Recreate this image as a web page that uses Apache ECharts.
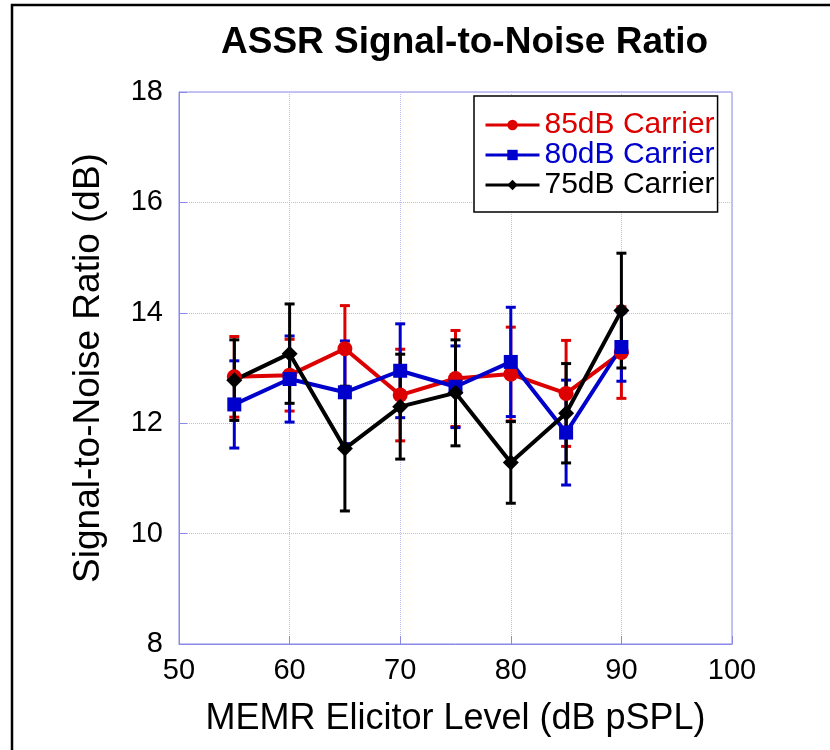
<!DOCTYPE html>
<html>
<head>
<meta charset="utf-8">
<script src="https://cdn.jsdelivr.net/npm/echarts@6/dist/echarts.min.js"></script>
<style>
html,body{margin:0;padding:0;background:#fff;}
#chart{width:830px;height:750px;}
</style>
</head>
<body>
<div id="chart"></div>
<script>
// ---- data ----
var xLevels = [55, 60, 65, 70, 75, 80, 85, 90];
var seriesNames = ['85dB Carrier', '80dB Carrier', '75dB Carrier'];
var snr85 = [12.84, 12.87, 13.35, 12.51, 12.81, 12.89, 12.54, 13.28];
var err85 = [0.73, 0.65, 0.78, 0.83, 0.87, 0.85, 0.96, 0.83];
var snr80 = [12.34, 12.80, 12.56, 12.95, 12.66, 13.11, 11.83, 13.38];
var err80 = [0.79, 0.78, 0.93, 0.85, 0.74, 0.99, 0.95, 0.62];
var snr75 = [12.78, 13.26, 11.54, 12.30, 12.55, 11.29, 12.18, 14.04];
var err75 = [0.73, 0.90, 1.13, 0.95, 0.96, 0.74, 0.90, 1.04];
var yTicks = [8, 10, 12, 14, 16, 18];
var xTicks = [50, 60, 70, 80, 90, 100];

var colors = ['#dd0000', '#0000cc', '#000000'];
var symbols = ['circle', 'rect', 'diamond'];
var symbolSizes = [15, 14, 16];
var means = [snr85, snr80, snr75];
var errs = [err85, err80, err75];
var FONT = "'Liberation Sans', Arial, sans-serif";
var AXIS_COLOR = '#8a8ae6';

function pairs(ys) { return xLevels.map(function (x, i) { return [x, ys[i]]; }); }
function triples(ys, es) { return xLevels.map(function (x, i) { return [x, ys[i], es[i]]; }); }

function errRender(color) {
  return function (params, api) {
    var x = api.value(0), y = api.value(1), e = api.value(2);
    var top = api.coord([x, y + e]);
    var bot = api.coord([x, y - e]);
    var hw = 5;
    var st = { stroke: color, lineWidth: 3 };
    return {
      type: 'group',
      children: [
        { type: 'line', shape: { x1: top[0], y1: top[1], x2: bot[0], y2: bot[1] }, style: st },
        { type: 'line', shape: { x1: top[0] - hw, y1: top[1], x2: top[0] + hw, y2: top[1] }, style: st },
        { type: 'line', shape: { x1: bot[0] - hw, y1: bot[1], x2: bot[0] + hw, y2: bot[1] }, style: st }
      ]
    };
  };
}

var series = [];
for (var k = 0; k < 3; k++) {
  series.push({
    type: 'custom',
    name: seriesNames[k] + ' err',
    renderItem: errRender(colors[k]),
    data: triples(means[k], errs[k]),
    encode: { x: 0, y: [1] },
    silent: true
  });
  series.push({
    type: 'line',
    name: seriesNames[k],
    data: pairs(means[k]),
    symbol: symbols[k],
    symbolSize: symbolSizes[k],
    showAllSymbol: true,
    color: colors[k],
    lineStyle: { color: colors[k], width: 4 },
    itemStyle: { color: colors[k] },
    animation: false
  });
}

var chart = echarts.init(document.getElementById('chart'));
chart.setOption({
  animation: false,
  backgroundColor: '#ffffff',
  title: {
    text: 'ASSR Signal-to-Noise Ratio',
    left: 216,
    top: 19,
    textStyle: { fontFamily: FONT, fontSize: 37, fontWeight: 'bold', color: '#000' }
  },
  graphic: [{
    type: 'rect',
    shape: { x: 12, y: 5, width: 840, height: 770 },
    style: { fill: 'none', stroke: '#000', lineWidth: 2.5 },
    silent: true
  }],
  legend: {
    orient: 'vertical',
    left: 474,
    top: 96,
    padding: [14, 3, 12, 10],
    itemGap: 0,
    itemWidth: 54,
    itemHeight: 13,
    backgroundColor: '#fff',
    borderColor: '#000',
    borderWidth: 1.5,
    borderRadius: 0,
    lineStyle: { width: 3 },
    data: seriesNames.map(function (n, i) {
      return { name: n, textStyle: { color: colors[i] } };
    }),
    textStyle: { fontFamily: FONT, fontSize: 30, lineHeight: 30 }
  },
  grid: {
    left: 179, right: 98, top: 92, bottom: 106,
    show: true, borderColor: AXIS_COLOR, borderWidth: 1
  },
  xAxis: {
    type: 'value',
    min: xTicks[0], max: xTicks[xTicks.length - 1], interval: 10,
    name: 'MEMR Elicitor Level (dB pSPL)',
    nameLocation: 'middle',
    nameGap: 57,
    nameTextStyle: { fontFamily: FONT, fontSize: 36, color: '#000' },
    axisLine: { lineStyle: { color: AXIS_COLOR, width: 1 } },
    axisTick: { inside: true, length: 8, lineStyle: { color: AXIS_COLOR } },
    axisLabel: { fontFamily: FONT, fontSize: 29, color: '#000', margin: 12 },
    splitLine: { show: true, lineStyle: { color: '#b8b8f2', type: 'dotted', width: 1 } }
  },
  yAxis: {
    type: 'value',
    min: yTicks[0], max: yTicks[yTicks.length - 1], interval: 2,
    name: 'Signal-to-Noise Ratio (dB)',
    nameLocation: 'middle',
    nameGap: 72,
    nameTextStyle: { fontFamily: FONT, fontSize: 37, color: '#000' },
    axisLine: { show: true, lineStyle: { color: AXIS_COLOR, width: 1 } },
    axisTick: { show: true, inside: true, length: 8, lineStyle: { color: AXIS_COLOR } },
    axisLabel: { fontFamily: FONT, fontSize: 29, color: '#000', margin: 16, padding: [0, 0, 10, 0] },
    splitLine: { show: true, lineStyle: { color: '#b8b8f2', type: 'dotted', width: 1 } }
  },
  series: series
});
</script>
</body>
</html>
